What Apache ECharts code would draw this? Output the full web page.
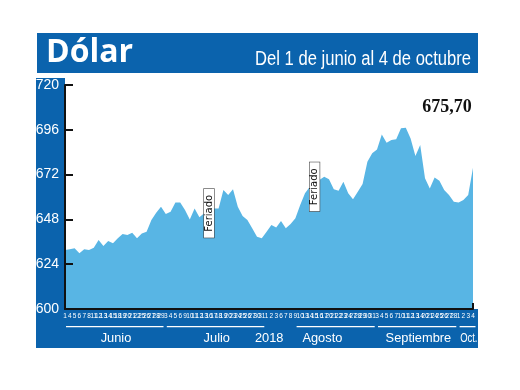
<!DOCTYPE html>
<html><head><meta charset="utf-8">
<script src="https://cdn.jsdelivr.net/npm/echarts@6/dist/echarts.min.js"></script>
<style>html,body{margin:0;padding:0;background:#fff}#c{width:520px;height:390px}</style>
</head><body><div id="c"></div>
<script>
// ---- data ----
const title = 'Dólar';
const subtitle = 'Del 1 de junio al 4 de octubre';
const yearLabel = '2018';
const junioDays = ['1','4','5','6','7','8','11','12','13','14','15','18','19','20','21','22','25','26','27','28','29'];
const julioDays = ['3','4','5','6','9','10','11','12','13','16','17','18','19','20','23','24','25','26','27','30','31'];
const agostoDays = ['1','2','3','6','7','8','9','10','13','14','15','16','17','20','21','22','23','24','27','28','29','30','31'];
const septiembreDays = ['3','4','5','6','7','10','11','12','13','14','20','21','24','25','26','27','28'];
const octubreDays = ['1','2','3','4'];
const monthNames = ['Junio','Julio','Agosto','Septiembre','Oct.'];
const junioValues = [631.6,632.0,632.5,629.8,632.0,631.6,632.8,637.0,633.7,636.4,635.2,637.9,640.2,639.6,640.9,637.9,640.5,641.4,647.7,651.5,654.8];
const julioValues = [650.9,652.1,657.1,657.1,653.0,648.0,653.9,649.1,651.3,651.3,653.9,653.9,663.7,661.1,664.1,654.8,649.8,647.7,643.2,638.7,637.9];
const agostoValues = [641.4,645.0,643.6,647.1,643.2,645.5,648.6,655.7,662.0,665.5,665.5,669.1,670.9,669.5,664.1,663.4,668.2,662.0,658.8,662.8,667.0,678.9,683.4];
const septiembreValues = [685.5,693.5,689.1,690.5,690.9,696.8,697.1,691.4,682.0,687.8,670.0,664.6,670.5,668.7,663.7,661.1,657.5];
const octubreValues = [657.0,658.4,661.1,675.7];
const feriadoIndex = [30, 52];
const feriadoText = 'Feriado';
const yMin = 600, yMax = 720, yStep = 24;

// ---- build ----
const monthDaysList = [junioDays, julioDays, agostoDays, septiembreDays, octubreDays];
const days = [].concat(...monthDaysList);
const values = [].concat(junioValues, julioValues, agostoValues, septiembreValues, octubreValues);
const last = values.length - 1;
const BLUE = '#0b63ad';
const AREA = '#58b5e4';
const SANS = '"Liberation Sans", sans-serif';

const chart = echarts.init(document.getElementById('c'), null, {renderer: 'canvas'});

const baseGraphics = [
  {type:'rect', id:'hdr', z:-1, shape:{x:37,y:33,width:441,height:40}, style:{fill:BLUE}},
  {type:'rect', id:'col', z:-1, shape:{x:36,y:78,width:29,height:232}, style:{fill:BLUE}},
  {type:'rect', id:'bot', z:-1, shape:{x:36,y:309,width:442,height:39}, style:{fill:BLUE}},
  {type:'text', id:'t1', z:10, left:46, top:37, style:{text:title, fill:'#fff', font:'bold 32px "Open Sans", sans-serif'}},
  {type:'text', id:'t2', z:10, x:471, y:59, scaleX:0.83, style:{text:subtitle, x:0, y:0, align:'right', verticalAlign:'middle', fill:'#fff', font:'20px ' + SANS}}
];

chart.setOption({
  animation:false,
  backgroundColor:'#fff',
  grid:{left:65, right:47, top:85, bottom:81},
  xAxis:{
    type:'category', data:days, boundaryGap:false, z:10,
    axisLine:{lineStyle:{color:'#111', width:2}},
    axisTick:{show:true, inside:true, length:6, interval:(i)=> i===last, lineStyle:{color:'#111', width:2}},
    axisLabel:{interval:0, color:'#fff', fontSize:6.5, fontFamily:SANS, margin:4, hideOverlap:false}
  },
  yAxis:{
    type:'value', min:yMin, max:yMax, interval:yStep, z:10,
    axisLine:{show:true, lineStyle:{color:'#111', width:2}},
    axisTick:{show:true, inside:true, length:8, lineStyle:{color:'#111', width:2}},
    splitLine:{show:false},
    axisLabel:{color:'#fff', fontSize:14, fontFamily:SANS, margin:6}
  },
  series:[{
    type:'line', data:values, symbol:'none', smooth:false,
    lineStyle:{width:0}, itemStyle:{color:AREA},
    areaStyle:{color:AREA, opacity:1},
    markPoint:{
      symbol:'circle', symbolSize:1, itemStyle:{color:'rgba(0,0,0,0)'},
      data: feriadoIndex.map(i => ({
        coord:[i, values[i]], value:values[i],
        label:{show:true, formatter:feriadoText, position:'inside', rotate:90,
          fontSize:10, color:'#111', fontFamily:'"DejaVu Sans", sans-serif',
          backgroundColor:'#fff', borderColor:'#444', borderWidth:0.6, padding:[0,6]}
      })).concat([{
        coord:[last, values[last]], value:values[last],
        label:{show:true, position:'inside', offset:[-26,-60],
          formatter:(p)=> p.value.toFixed(2).replace('.', ','),
          fontSize:18, fontWeight:'bold', color:'#111', fontFamily:'"Liberation Serif", serif'}
      }])
    }
  }],
  graphic: baseGraphics
});

// month underlines & names positioned from the axis scale
const xp = (i) => chart.convertToPixel({xAxisIndex:0}, i);
const extra = [];
let start = 0;
monthDaysList.forEach((m, k) => {
  const s = start, e = start + m.length - 1;
  let x0 = xp(s) + 1, x1 = xp(e) + 2.5;
  if (k === 2) x0 = xp(s) + 30;
  extra.push({type:'rect', id:'ml'+k, z:10, shape:{x:x0, y:326, width:x1-x0, height:1.3}, style:{fill:'#fff'}});
  const cx = (xp(s) + xp(e)) / 2 + 3;
  extra.push({type:'text', id:'mn'+k, z:10, x:cx, y:338, scaleX:(k===4 ? 0.7 : 0.95),
    style:{text:monthNames[k], x:0, y:0, align:'center', verticalAlign:'middle', fill:'#fff', font:'13.5px ' + SANS}});
  start += m.length;
});
const bx = (xp(julioDays.length + junioDays.length - 1) + xp(julioDays.length + junioDays.length)) / 2 + 5;
extra.push({type:'text', id:'yr', z:10, x:bx, y:338, scaleX:0.95, style:{text:yearLabel, x:0, y:0, align:'center', verticalAlign:'middle', fill:'#fff', font:'13.5px ' + SANS}});
chart.setOption({graphic: baseGraphics.concat(extra)});
</script>
</body></html>
